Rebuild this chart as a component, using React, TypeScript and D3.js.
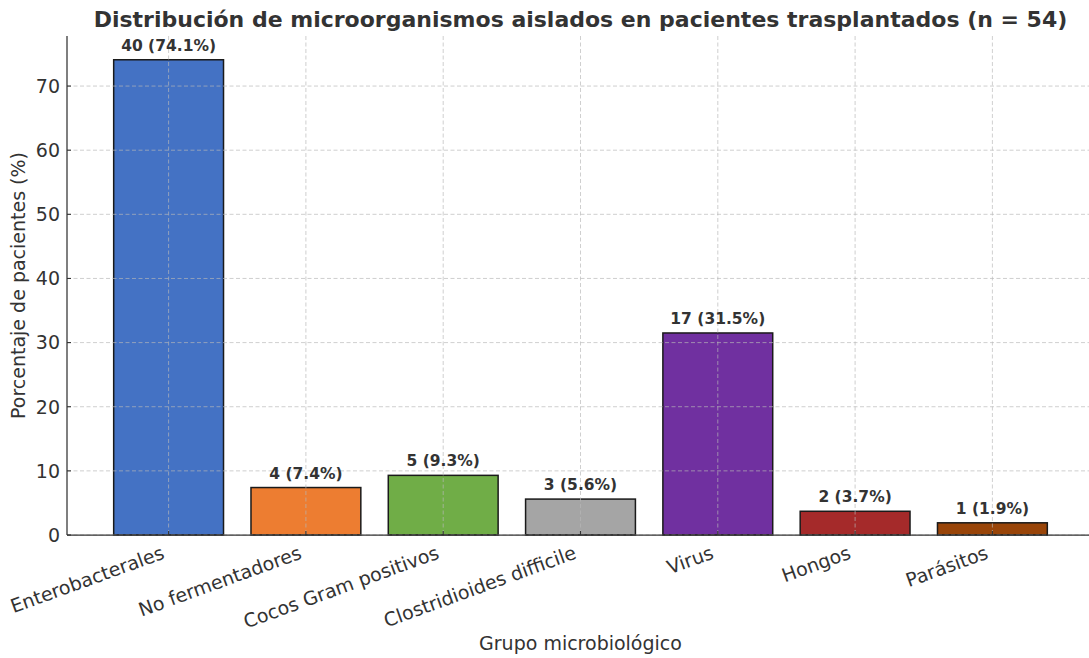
import React from "react";
import * as d3 from "d3";

const categories = [
  "Enterobacterales",
  "No fermentadores",
  "Cocos Gram positivos",
  "Clostridioides difficile",
  "Virus",
  "Hongos",
  "Parásitos",
];
const counts = [40, 4, 5, 3, 17, 2, 1];
const percents = [74.1, 7.4, 9.3, 5.6, 31.5, 3.7, 1.9];
const colors = ["#4472C4", "#ED7D31", "#70AD47", "#A5A5A5", "#7030A0", "#A52A2A", "#994509"];
const yTicks = [0, 10, 20, 30, 40, 50, 60, 70];

const W = 1089;
const H = 658;
const left = 67;
const right = 1094;
const top = 36;
const bottom = 535;
const font = "'DejaVu Sans', sans-serif";
const textColor = "#333";

export default function App() {
  const n = categories.length;
  const x = d3.scaleLinear().domain([-0.74, n - 1 + 0.74]).range([left, right]);
  const yMax = d3.max(percents)! * 1.05;
  const y = d3.scaleLinear().domain([0, yMax]).range([bottom, top]);
  const bw = x(0.8) - x(0);

  return (
    <svg width={W} height={H} style={{ position: "absolute", left: 0, top: 0 }} fontFamily={font}>
      <rect width={W} height={H} fill="#fff" />
      {/* bars */}
      {percents.map((p, i) => (
        <rect
          key={i}
          x={x(i) - bw / 2}
          y={y(p)}
          width={bw}
          height={bottom - y(p)}
          fill={colors[i]}
          stroke="#1a1a1a"
          strokeWidth={1.5}
        />
      ))}
      {/* grid */}
      {yTicks.map((t) => (
        <line key={"gy" + t} x1={left} x2={W} y1={y(t)} y2={y(t)} stroke="#b8b8b8" strokeOpacity={0.75} strokeWidth={0.9} strokeDasharray="4,2.5" />
      ))}
      {categories.map((c, i) => (
        <line key={"gx" + i} x1={x(i)} x2={x(i)} y1={top} y2={bottom} stroke="#b8b8b8" strokeOpacity={0.75} strokeWidth={0.9} strokeDasharray="4,2.5" />
      ))}
      {/* spines */}
      <line x1={left} x2={left} y1={top} y2={bottom} stroke="#333" strokeWidth={1.25} />
      <line x1={left} x2={W} y1={bottom} y2={bottom} stroke="#333" strokeWidth={1.25} />
      {/* y ticks */}
      {yTicks.map((t) => (
        <g key={"yt" + t}>
          <line x1={left} x2={left + 4} y1={y(t)} y2={y(t)} stroke="#333" strokeWidth={1.1} />
          <text x={left - 7} y={y(t)} dy="0.36em" textAnchor="end" fontSize={19} fill={textColor}>
            {t}
          </text>
        </g>
      ))}
      {/* x ticks */}
      {categories.map((c, i) => (
        <g key={"xt" + i}>
          <line x1={x(i)} x2={x(i)} y1={bottom} y2={bottom - 4} stroke="#333" strokeWidth={1.1} />
          <text
            transform={`translate(${x(i) - 3},${558}) rotate(-20)`}
            textAnchor="end"
            fontSize={19}
            fill={textColor}
          >
            {c}
          </text>
        </g>
      ))}
      {/* value labels */}
      {percents.map((p, i) => (
        <text key={"vl" + i} x={x(i)} y={y(p) - 9} textAnchor="middle" fontSize={15.5} fontWeight="bold" fill={textColor}>
          {`${counts[i]} (${p.toFixed(1)}%)`}
        </text>
      ))}
      {/* title */}
      <text x={(left + right) / 2} y={27} textAnchor="middle" fontSize={22} fontWeight="bold" fill={textColor}>
        Distribución de microorganismos aislados en pacientes trasplantados (n = 54)
      </text>
      <text x={(left + right) / 2} y={650} textAnchor="middle" fontSize={19} fill={textColor}>
        Grupo microbiológico
      </text>
      <text transform={`translate(25,${(top + bottom) / 2}) rotate(-90)`} textAnchor="middle" fontSize={19} fill={textColor}>
        Porcentaje de pacientes (%)
      </text>
    </svg>
  );
}
